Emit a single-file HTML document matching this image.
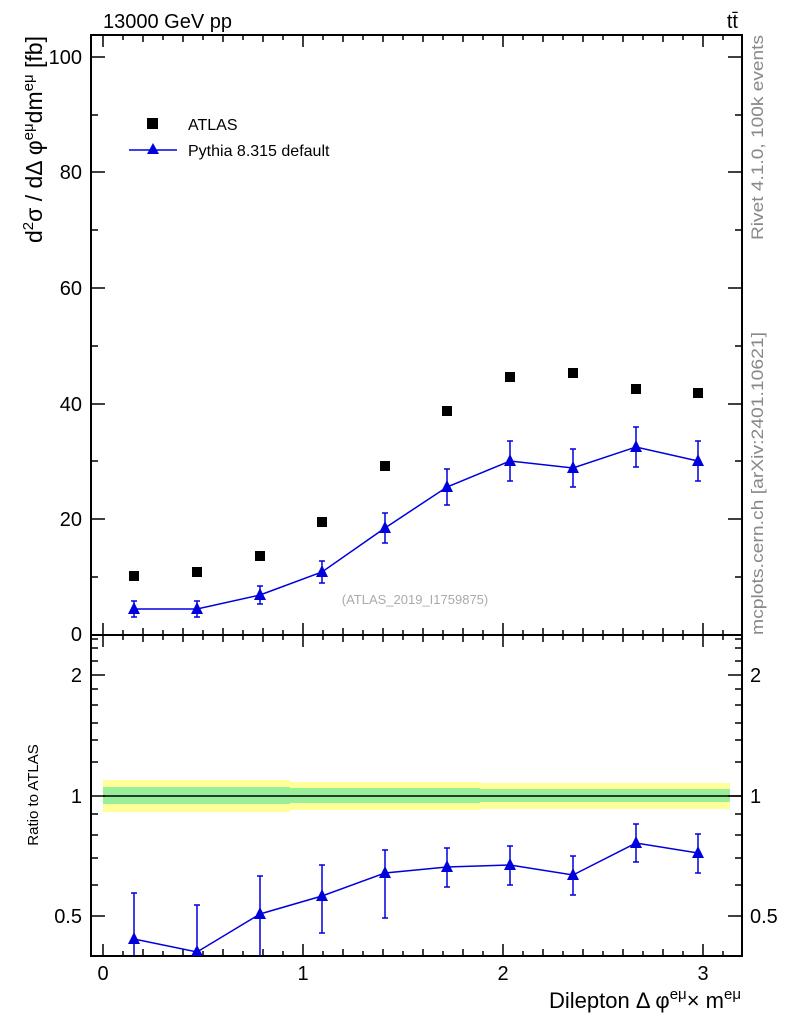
<!DOCTYPE html>
<html><head><meta charset="utf-8"><style>body{margin:0;background:#fff}svg{display:block}text{font-family:"Liberation Sans",sans-serif}</style></head><body>
<svg width="786" height="1024" viewBox="0 0 786 1024" xmlns="http://www.w3.org/2000/svg">
<text x="103" y="28" font-size="20">13000 GeV pp</text>
<text x="738" y="28" font-size="20" text-anchor="end">tt̄</text>
<text transform="translate(763,635) rotate(-90)" font-size="17" fill="#888" textLength="303" lengthAdjust="spacingAndGlyphs">mcplots.cern.ch [arXiv:2401.10621]</text>
<text transform="translate(763,240) rotate(-90)" font-size="17" fill="#888" textLength="205" lengthAdjust="spacingAndGlyphs">Rivet 4.1.0,  100k events</text>
<text transform="translate(42,36) rotate(-90)" font-size="23" text-anchor="end">d<tspan font-size="15" dy="-9">2</tspan><tspan dy="9">σ / dΔ φ</tspan><tspan font-size="15" dy="-9">eμ</tspan><tspan dy="9">dm</tspan><tspan font-size="15" dy="-9">eμ</tspan><tspan dy="9"> [fb]</tspan></text>
<text transform="translate(38,795) rotate(-90)" font-size="15" text-anchor="middle">Ratio to ATLAS</text>
<text x="741" y="1008" font-size="22" text-anchor="end">Dilepton Δ φ<tspan font-size="15" dy="-9">eμ</tspan><tspan dy="9">× m</tspan><tspan font-size="15" dy="-9">eμ</tspan></text>
<text x="415" y="604" font-size="13" fill="#aaa" text-anchor="middle">(ATLAS_2019_I1759875)</text>
<g>
<polygon fill="#ffff99" points="103,780 290,780 290,782 480,782 480,783 730,783 730,809 480,809 480,810 290,810 290,812 103,812"/>
<polygon fill="#99ee99" points="103,787 290,787 290,788 480,788 480,789 730,789 730,802 480,802 480,803 290,803 290,804 103,804"/>
<line x1="103" y1="796" x2="741" y2="796" stroke="#000" stroke-width="1.5"/>
</g>
<rect x="91" y="35" width="651" height="600" fill="none" stroke="#000" stroke-width="2"/>
<rect x="91" y="635" width="651" height="321" fill="none" stroke="#000" stroke-width="2"/>
<g stroke="#000" stroke-width="1.5">
<path d="M91 635h14M91 519h14M91 404h14M91 288h14M91 172h14M91 57h14 M742 635h-14M742 519h-14M742 404h-14M742 288h-14M742 172h-14M742 57h-14"/>
<path d="M91 577h7M91 461h7M91 346h7M91 230h7M91 115h7M742 577h-7M742 461h-7M742 346h-7M742 230h-7M742 115h-7"/>
<path d="M103 635v-12M303 635v-12M503 635v-12M703 635v-12M103 35v12M303 35v12M503 35v12M703 35v12M103 956v-12M303 956v-12M503 956v-12M703 956v-12M103 635v12M303 635v12M503 635v12M703 635v12"/>
<path d="M123 635v-5M143 635v-7M163 635v-5M183 635v-7M203 635v-5M223 635v-7M243 635v-5M263 635v-7M283 635v-5M323 635v-5M343 635v-7M363 635v-5M383 635v-7M403 635v-5M423 635v-7M443 635v-5M463 635v-7M483 635v-5M523 635v-5M543 635v-7M563 635v-5M583 635v-7M603 635v-5M623 635v-7M643 635v-5M663 635v-7M683 635v-5M723 635v-5
M123 35v5M143 35v7M163 35v5M183 35v7M203 35v5M223 35v7M243 35v5M263 35v7M283 35v5M323 35v5M343 35v7M363 35v5M383 35v7M403 35v5M423 35v7M443 35v5M463 35v7M483 35v5M523 35v5M543 35v7M563 35v5M583 35v7M603 35v5M623 35v7M643 35v5M663 35v7M683 35v5M723 35v5
M123 956v-5M143 956v-7M163 956v-5M183 956v-7M203 956v-5M223 956v-7M243 956v-5M263 956v-7M283 956v-5M323 956v-5M343 956v-7M363 956v-5M383 956v-7M403 956v-5M423 956v-7M443 956v-5M463 956v-7M483 956v-5M523 956v-5M543 956v-7M563 956v-5M583 956v-7M603 956v-5M623 956v-7M643 956v-5M663 956v-7M683 956v-5M723 956v-5
M123 635v5M143 635v7M163 635v5M183 635v7M203 635v5M223 635v7M243 635v5M263 635v7M283 635v5M323 635v5M343 635v7M363 635v5M383 635v7M403 635v5M423 635v7M443 635v5M463 635v7M483 635v5M523 635v5M543 635v7M563 635v5M583 635v7M603 635v5M623 635v7M643 635v5M663 635v7M683 635v5M723 635v5"/>
<path d="M91 916h14M91 796h14M91 675h14M742 916h-14M742 796h-14M742 675h-14"/>
<path d="M91 885h7M91 858h7M91 835h7M91 814h7M91 762h7M91 740h7M91 723h7M91 705h7M91 689h7M91 661h7M91 648h7M91 639h7
M742 885h-7M742 858h-7M742 835h-7M742 814h-7M742 762h-7M742 740h-7M742 723h-7M742 705h-7M742 689h-7M742 661h-7M742 648h-7M742 639h-7"/>
</g>
<g font-size="20" text-anchor="end">
<text x="82" y="64">100</text><text x="82" y="179">80</text><text x="82" y="295">60</text><text x="82" y="411">40</text><text x="82" y="526">20</text><text x="82" y="641">0</text>
<text x="82" y="682">2</text><text x="82" y="803">1</text><text x="82" y="923">0.5</text>
</g>
<g font-size="20"><text x="750" y="682">2</text><text x="750" y="803">1</text><text x="750" y="923">0.5</text></g>
<g font-size="20" text-anchor="middle"><text x="103" y="980">0</text><text x="303" y="980">1</text><text x="503" y="980">2</text><text x="703" y="980">3</text></g>
<rect x="147" y="118" width="11" height="11" fill="#000"/>
<text x="188" y="130" font-size="16">ATLAS</text>
<line x1="129" y1="150" x2="177" y2="150" stroke="#0000dd" stroke-width="1.5"/>
<polygon points="153,143 147,154 159,154" fill="#0000dd"/>
<text x="188" y="156" font-size="16">Pythia 8.315 default</text>
<g fill="#000">
<rect x="129" y="571" width="10" height="10"/><rect x="192" y="567" width="10" height="10"/><rect x="255" y="551" width="10" height="10"/><rect x="317" y="517" width="10" height="10"/><rect x="380" y="461" width="10" height="10"/><rect x="442" y="406" width="10" height="10"/><rect x="505" y="372" width="10" height="10"/><rect x="568" y="368" width="10" height="10"/><rect x="631" y="384" width="10" height="10"/><rect x="693" y="388" width="10" height="10"/>
</g>
<g stroke="#0000dd" stroke-width="1.5" fill="none">
<polyline points="134,609 197,609 260,595 322,572 385,528 447,487 510,461 573,468 636,447 698,461"/>
<path d="M134 601v16M197 601v16M260 586v18M322 561v22M385 513v30M447 469v36M510 441v40M573 449v38M636 427v40M698 441v40"/>
<path d="M131 601h6M131 617h6M194 601h6M194 617h6M257 586h6M257 604h6M319 561h6M319 583h6M382 513h6M382 543h6M444 469h6M444 505h6M507 441h6M507 481h6M570 449h6M570 487h6M633 427h6M633 467h6M695 441h6M695 481h6"/>
<polyline points="134,939 197,952 260,914 322,896 385,873 447,867 510,865 573,875 636,843 698,853"/>
<path d="M134 893v62M197 905v51M260 876v80M322 865v68M385 850v68M447 848v39M510 846v39M573 856v39M636 824v38M698 834v39"/>
<path d="M131 893h6M194 905h6M257 876h6M319 865h6M319 933h6M382 850h6M382 918h6M444 848h6M444 887h6M507 846h6M507 885h6M570 856h6M570 895h6M633 824h6M633 862h6M695 834h6M695 873h6"/>
</g>
<g fill="#0000dd">
<polygon points="134,602 128,614 140,614"/><polygon points="197,602 191,614 203,614"/><polygon points="260,588 254,600 266,600"/><polygon points="322,565 316,577 328,577"/><polygon points="385,521 379,533 391,533"/><polygon points="447,480 441,492 453,492"/><polygon points="510,454 504,466 516,466"/><polygon points="573,461 567,473 579,473"/><polygon points="636,440 630,452 642,452"/><polygon points="698,454 692,466 704,466"/>
<polygon points="134,932 128,944 140,944"/><polygon points="197,945 191,956 203,956"/><polygon points="260,907 254,919 266,919"/><polygon points="322,889 316,901 328,901"/><polygon points="385,866 379,878 391,878"/><polygon points="447,860 441,872 453,872"/><polygon points="510,858 504,870 516,870"/><polygon points="573,868 567,880 579,880"/><polygon points="636,836 630,848 642,848"/><polygon points="698,846 692,858 704,858"/>
</g>
</svg>
</body></html>
